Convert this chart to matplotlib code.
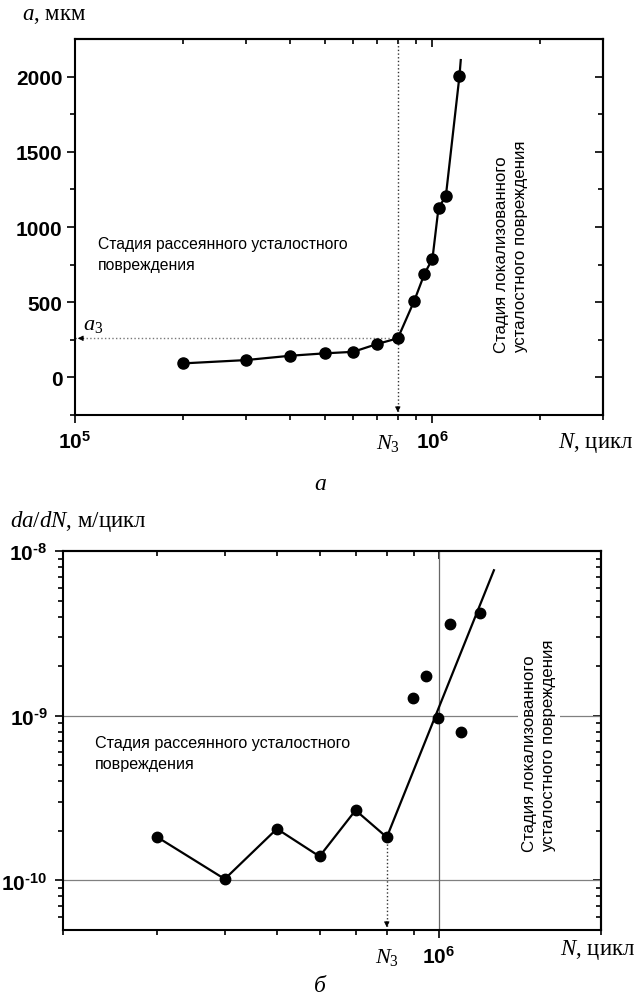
import numpy as np
import matplotlib
matplotlib.use("Agg")
import matplotlib.pyplot as plt

plt.rcParams['font.family'] = ['Liberation Sans', 'DejaVu Sans']
plt.rcParams['mathtext.fontset'] = 'custom'
plt.rcParams['mathtext.rm'] = 'Liberation Serif'
plt.rcParams['mathtext.it'] = 'Liberation Serif:italic'
plt.rcParams['mathtext.sf'] = 'Liberation Sans:bold'

# --- (а) длина трещины от числа циклов ---
n_top = [2e5, 3e5, 4e5, 5e5, 6e5, 7e5, 8e5, 8.9e5, 9.5e5, 1e6, 1.04e6, 1.09e6, 1.19e6]
a_top = [93, 115, 144, 160, 170, 222, 260, 511, 689, 789, 1129, 1204, 2004]
curve_end_n = 1.2e6
curve_end_a = 2110
N3 = 8e5
a3 = 260

# --- (б) скорость роста трещины ---
n_low = [3e5, 4e5, 5e5, 6e5, 7e5, 8e5]
rate_low = [1.83e-10, 1.02e-10, 2.06e-10, 1.40e-10, 2.67e-10, 1.83e-10]
n_high = [8.96e5, 9.47e5, 9.97e5, 1.047e6, 1.097e6, 1.19e6]
rate_high = [1.28e-9, 1.74e-9, 9.64e-10, 3.64e-9, 7.96e-10, 4.24e-9]
fit_n = [8e5, 1.265e6]
fit_rate = [1.83e-10, 7.67e-9]
N3_rate = 1.83e-10

txt_diffuse = 'Стадия рассеянного усталостного\nповреждения'
txt_local = 'Стадия локализованного\nусталостного повреждения'

W, H = 639, 1004
fig = plt.figure(figsize=(W / 100, H / 100), dpi=100)


def px(x0, y0, x1, y1):
    return [x0 / W, 1 - y1 / H, (x1 - x0) / W, (y1 - y0) / H]


def style_axes(ax):
    for s in ax.spines.values():
        s.set_linewidth(1.5)
    ax.tick_params(which='major', direction='out', length=6, width=1.2)
    ax.tick_params(which='minor', direction='out', length=3.5, width=1.2)


def mirror_ticks(sec, major, minor):
    if sec._orientation == 'x':
        sec.set_xticks(major)
        sec.set_xticks(minor, minor=True)
        sec.xaxis.set_minor_formatter(plt.NullFormatter())
        sec.tick_params(which='both', direction='in', labeltop=False)
    else:
        sec.set_yticks(major)
        sec.set_yticks(minor, minor=True)
        sec.yaxis.set_minor_formatter(plt.NullFormatter())
        sec.tick_params(which='both', direction='in', labelright=False)
    sec.tick_params(which='major', length=6, width=1.2)
    sec.tick_params(which='minor', length=3.5, width=1.2)
    for s in sec.spines.values():
        s.set_linewidth(1.5)


def sup(base, exp):
    return r'$\mathsf{' + base + '^{' + exp.replace('-', '\u2010') + '}}$'


serif = 'Liberation Serif'

# ================= верхний график =================
ax1 = fig.add_axes(px(75, 40, 603, 416))
ax1.set_xscale('log')
ax1.set_xlim(1e5, 3e6)
ax1.set_ylim(-250, 2250)
style_axes(ax1)

ax1.plot(n_top + [curve_end_n], a_top + [curve_end_a], color='black', lw=1.6, zorder=3)
ax1.plot(n_top, a_top, 'o', color='black', ms=8, zorder=4)

ax1.plot([1e5, N3], [a3, a3], ls=':', color='#777777', lw=1.0)
ax1.plot([N3, N3], [-250, 2250], ls=':', color='#333333', lw=1.0)
ax1.annotate('', xy=(1e5, a3), xytext=(8, 0), textcoords='offset points',
             arrowprops=dict(arrowstyle='-|>', color='black', lw=0.6, mutation_scale=8))
ax1.annotate('', xy=(N3, -250), xytext=(0, 8), textcoords='offset points',
             arrowprops=dict(arrowstyle='-|>', color='black', lw=0.6, mutation_scale=8))

y_major1 = [0, 500, 1000, 1500, 2000]
y_minor1 = [-250, 250, 750, 1250, 1750]
x_minor1 = [2e5, 3e5, 4e5, 5e5, 6e5, 7e5, 8e5, 9e5, 2e6, 3e6]
ax1.set_yticks(y_major1)
ax1.set_yticks(y_minor1, minor=True)
ax1.set_yticklabels([str(v) for v in y_major1], fontsize=15, fontweight='bold')
ax1.tick_params(axis='y', pad=3)
ax1.set_xticks([1e5, 1e6])
ax1.set_xticklabels([sup('10', '5'), sup('10', '6')], fontsize=15)
ax1.set_xticks(x_minor1, minor=True)
ax1.xaxis.set_minor_formatter(plt.NullFormatter())
ax1.tick_params(axis='x', pad=5)

mirror_ticks(ax1.secondary_xaxis('top'), [1e5, 1e6], x_minor1)
mirror_ticks(ax1.secondary_yaxis('right'), y_major1, y_minor1)

ax1.text(0.0436, 0.428, txt_diffuse, transform=ax1.transAxes, fontsize=11.3,
         ha='left', va='center', linespacing=1.55)
ax1.text(0.826, 0.168, txt_local, transform=ax1.transAxes, fontsize=12.2,
         rotation=90, ha='center', va='bottom', multialignment='left', linespacing=1.35)
ax1.annotate(r'$a_3$', xy=(1e5, a3), xytext=(6, 3), textcoords='offset points',
             fontsize=16, family=serif, ha='left', va='bottom')
ax1.annotate(r'$N_3$', xy=(N3, -250), xytext=(-7, -20), textcoords='offset points',
             fontsize=16, family=serif, ha='center', va='center')

fig.text(22 / W, 1 - 20 / H, r'$a$, мкм', fontsize=16.5, family=serif, va='baseline')
fig.text(558 / W, 1 - 448 / H, r'$N$, цикл', fontsize=16.5, family=serif, va='baseline')
fig.text(320 / W, 1 - 490 / H, 'а', fontsize=17, family=serif, style='italic',
         ha='center', va='baseline')

# ================= нижний график =================
ax2 = fig.add_axes(px(62.7, 552.3, 601, 931))
ax2.set_xscale('log')
ax2.set_yscale('log')
ax2.set_xlim(2e5, 2e6)
ax2.set_ylim(5e-11, 1e-8)
style_axes(ax2)

ax2.axhline(1e-9, color='#808080', lw=0.9, zorder=1)
ax2.axhline(1e-10, color='#808080', lw=0.9, zorder=1)
ax2.axvline(1e6, color='#666666', lw=0.9, zorder=1)

ax2.plot(n_low, rate_low, '-o', color='black', lw=1.6, ms=7.5, zorder=3)
ax2.plot(fit_n, fit_rate, '-', color='black', lw=1.6, zorder=3)
ax2.plot(n_high, rate_high, 'o', color='black', ms=7.5, zorder=4)

ax2.plot([N3, N3], [5e-11, N3_rate], ls=':', color='#333333', lw=1.0)
ax2.annotate('', xy=(N3, 5e-11), xytext=(0, 8), textcoords='offset points',
             arrowprops=dict(arrowstyle='-|>', color='black', lw=0.6, mutation_scale=8))

y_major2 = [1e-10, 1e-9, 1e-8]
y_minor2 = [m * 10.0 ** e for e in (-11, -10, -9) for m in range(2, 10)]
y_minor2 = [v for v in y_minor2 if 5e-11 <= v <= 1e-8]
x_minor2 = [2e5, 3e5, 4e5, 5e5, 6e5, 7e5, 8e5, 9e5, 2e6]
ax2.set_yticks(y_major2)
ax2.set_yticklabels([sup('10', '-10'), sup('10', '-9'), sup('10', '-8')], fontsize=15)
ax2.set_yticks(y_minor2, minor=True)
ax2.yaxis.set_minor_formatter(plt.NullFormatter())
ax2.tick_params(axis='y', pad=5)
ax2.set_xticks([1e6])
ax2.set_xticklabels([sup('10', '6')], fontsize=15)
ax2.set_xticks(x_minor2, minor=True)
ax2.xaxis.set_minor_formatter(plt.NullFormatter())
ax2.tick_params(axis='x', pad=5)

mirror_ticks(ax2.secondary_xaxis('top'), [1e6], x_minor2)
mirror_ticks(ax2.secondary_yaxis('right'), y_major2, y_minor2)

ax2.text(0.06, 0.467, txt_diffuse, transform=ax2.transAxes, fontsize=11.6,
         ha='left', va='center', linespacing=1.55)
ax2.text(0.885, 0.209, txt_local, transform=ax2.transAxes, fontsize=12.2,
         rotation=90, ha='center', va='bottom', multialignment='left', linespacing=1.35,
         bbox=dict(facecolor='white', edgecolor='none', pad=3), zorder=5)
ax2.annotate(r'$N_3$', xy=(N3, 5e-11), xytext=(0, -19), textcoords='offset points',
             fontsize=16, family=serif, ha='center', va='center')

fig.text(10 / W, 1 - 527 / H, r'$da/dN$, м/цикл', fontsize=16.5, family=serif, va='baseline')
fig.text(560 / W, 1 - 955 / H, r'$N$, цикл', fontsize=16.5, family=serif, va='baseline')
fig.text(320 / W, 1 - 992 / H, 'б', fontsize=17, family=serif, style='italic',
         ha='center', va='baseline')

fig.savefig('out.png', dpi=100)
